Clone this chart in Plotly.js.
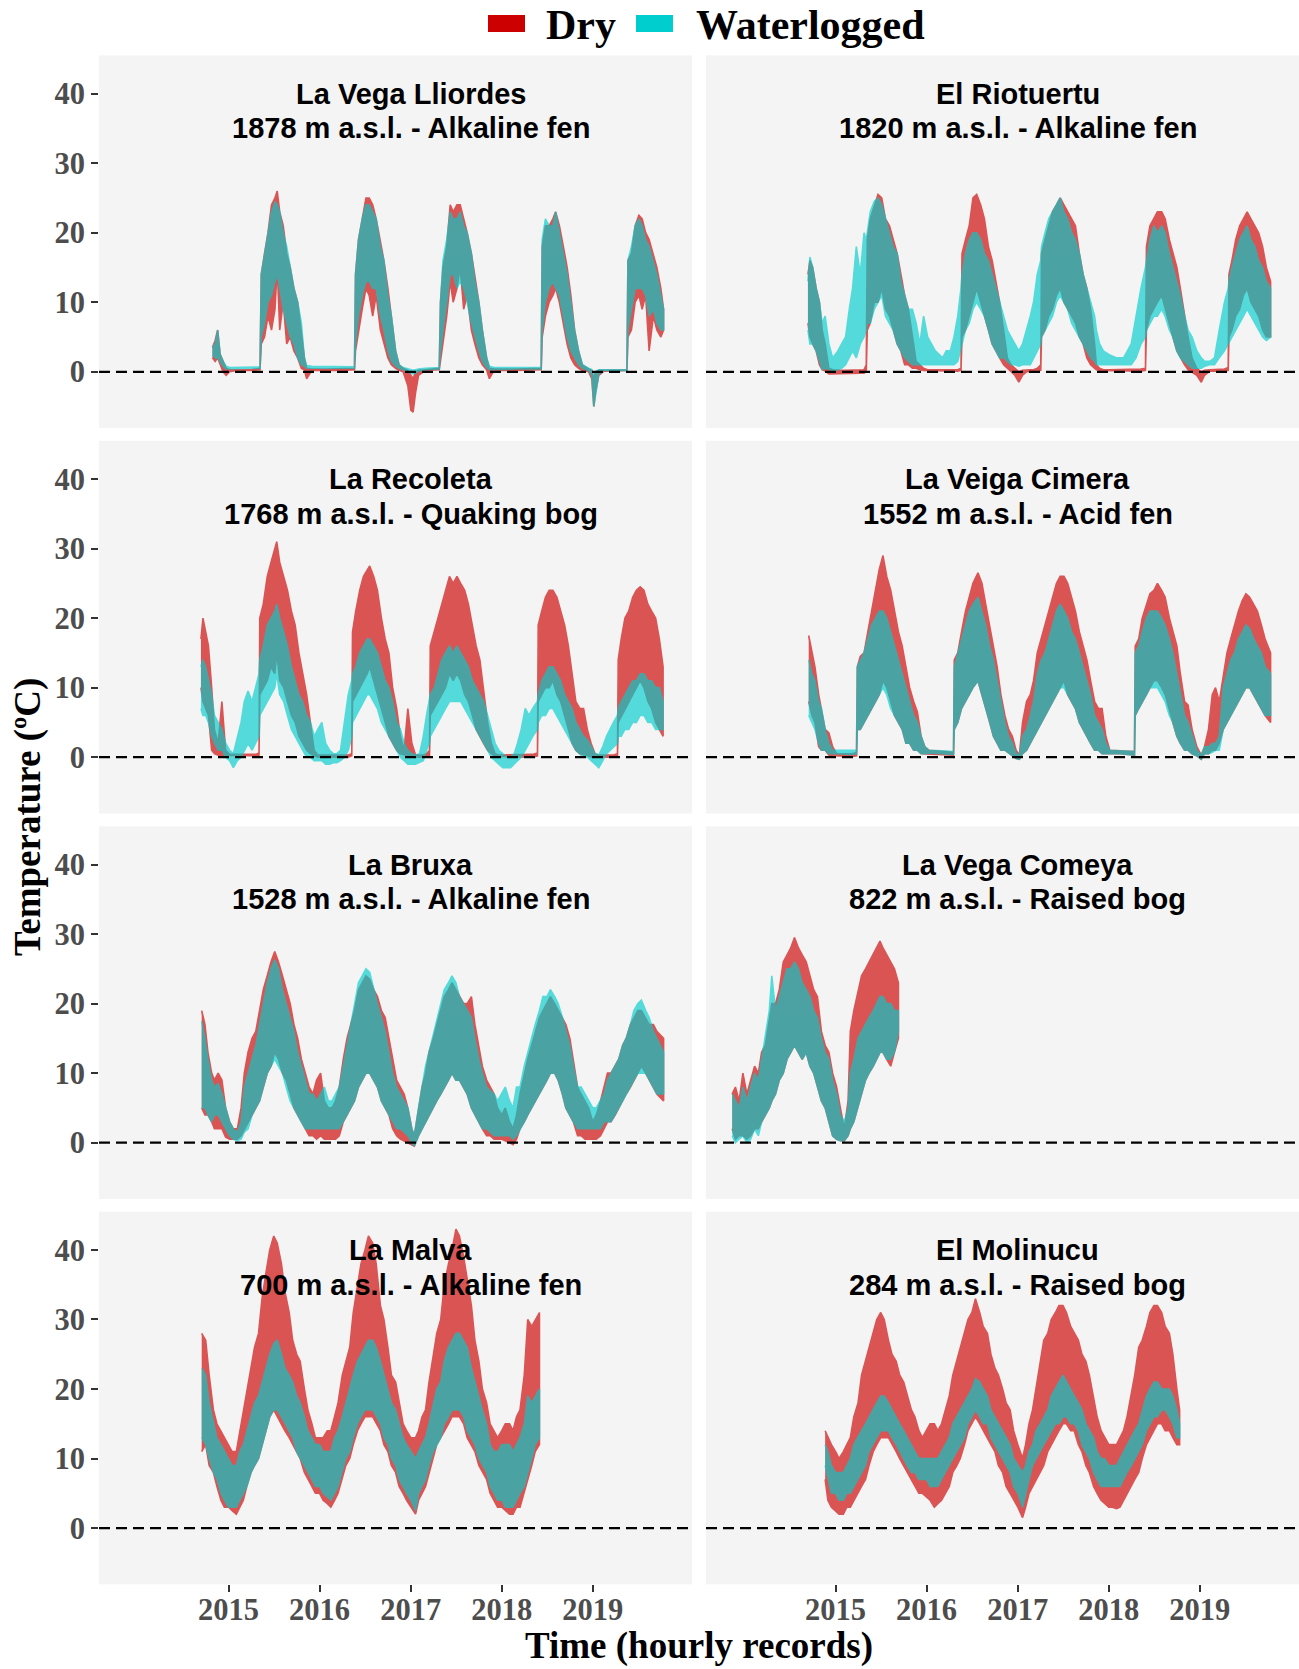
<!DOCTYPE html>
<html>
<head>
<meta charset="utf-8">
<script src="https://cdn.plot.ly/plotly-3.0.1.min.js"></script>
<style>html,body{margin:0;padding:0;background:#fff;}#chart{width:1299px;height:1669px;}</style>
</head>
<body>
<div id="chart"></div>
<script>
// ---------------- DATA (envelopes: low/high of the hourly traces) ----------------
const siteNames = ["La Vega Lliordes","El Riotuertu","La Recoleta","La Veiga Cimera","La Bruxa","La Vega Comeya","La Malva","El Molinucu"];
const siteLabels = ["1878 m a.s.l. - Alkaline fen","1820 m a.s.l. - Alkaline fen","1768 m a.s.l. - Quaking bog","1552 m a.s.l. - Acid fen","1528 m a.s.l. - Alkaline fen","822 m a.s.l. - Raised bog","700 m a.s.l. - Alkaline fen","284 m a.s.l. - Raised bog"];
const seriesNames = ["Dry","Waterlogged"];
const yearTicks = ["2015-01-01","2016-01-01","2017-01-01","2018-01-01","2019-01-01"];
const yearLabels = ["2015","2016","2017","2018","2019"];
const tempTicks = [0,10,20,30,40];

// La Vega Lliordes
const lliordesDates = ["2014-10-28","2014-11-08","2014-11-18","2014-11-28","2014-12-10","2014-12-22","2015-01-05","2015-02-01","2015-03-01","2015-04-01",
"2015-05-07","2015-05-12","2015-05-25","2015-06-08","2015-06-22","2015-07-06","2015-07-15","2015-07-25","2015-08-08","2015-08-22",
"2015-09-05","2015-09-20","2015-10-05","2015-10-20","2015-11-01","2015-11-10","2015-12-01","2016-02-01","2016-04-01","2016-05-20",
"2016-05-24","2016-06-05","2016-06-20","2016-07-05","2016-07-18","2016-08-01","2016-08-15","2016-09-01","2016-09-15","2016-10-01",
"2016-10-15","2016-11-01","2016-11-15","2016-12-01","2016-12-20","2017-01-01","2017-01-10","2017-01-20","2017-02-01","2017-03-01",
"2017-04-25","2017-04-30","2017-05-10","2017-05-25","2017-06-08","2017-06-20","2017-07-05","2017-07-18","2017-08-01","2017-08-15",
"2017-09-01","2017-09-15","2017-10-01","2017-10-15","2017-11-01","2017-11-12","2017-12-01","2018-03-01","2018-06-08","2018-06-12",
"2018-06-25","2018-07-10","2018-07-25","2018-08-05","2018-08-20","2018-09-05","2018-09-20","2018-10-05","2018-10-20","2018-11-05",
"2018-11-20","2018-12-15","2018-12-28","2019-01-05","2019-01-12","2019-01-25","2019-02-15","2019-05-18","2019-05-22","2019-06-05",
"2019-06-20","2019-07-05","2019-07-18","2019-08-01","2019-08-15","2019-09-01","2019-09-15","2019-10-01","2019-10-12"];
const lliordesDryLo = [2,1.5,2,1,0,-0.5,0,0.2,0.2,0.2,
0.3,4,5,8,6,9,15,6,10,4,
5,3,2,0.5,0.3,-1,0.2,0.2,0.2,0.3,
3,6,9,12,11,8,11,6,4,2,
1,0.5,0.2,0,-2,-5.5,-5.8,-3,-0.5,0.2,
0.3,2,4,8,13,10,12,15,9,11,
6,4,2,1,0.3,-1,0.2,0.2,0.3,5,
8,10,11,12,10,7,4,2,1,0.5,
0.2,0,-1,-5,-3,-0.5,0.1,0.2,5,6,
10,11,9,11,3,8,6,5,6];
const lliordesDryHi = [3.5,4.5,6,2.5,1.5,0.5,0.3,0.3,0.3,0.3,
0.5,14,17,20,24,25,26,23,21,17,
15,12,10,6,2,0.5,0.4,0.4,0.4,0.5,
14,19,22,25,25,24,22,19,16,12,
8,3,1,0.5,0.2,-0.5,-1,0,0.2,0.3,
0.5,10,15,18,24,23,24,24,22,20,
17,14,10,6,2,0.5,0.4,0.4,0.5,18,
21,21,22,23,21,18,15,11,6,3,
1,0.4,0.2,-1,0,0.2,0.2,0.3,16,17,
21,22.5,22,20,19,17,15,12,9];
const lliordesWetLo = [2.5,2,2,1.5,0.8,0.4,0.4,0.5,0.5,0.5,
0.5,5,7,10,11,13,14,12,9,7,
5,4,2,1,0.8,0.5,0.6,0.6,0.5,0.5,
4,8,11,13,13,12,12,8,6,3,
1.5,0.8,0.5,0.3,0,-0.2,-0.3,-0.2,0.1,0.3,
0.4,3,6,10,14,14,12,13,12,10,
7,5,3,1.5,0.6,0.3,0.4,0.4,0.4,6,
10,12,13,12,11,8,5,3,2,1,
0.5,0.2,-0.5,-5,-3,-0.3,0.2,0.2,6,9,
12,12,12,11,8,9,7,6,6];
const lliordesWetHi = [3.5,4,6,2.5,1.5,0.8,0.6,0.6,0.6,0.6,
0.7,14,17,20,23,24.5,24,23,20,18,
15,12,10,7,2,0.9,0.8,0.8,0.7,0.7,
14,19,22,24,24,23,22,18,16,11,
8,3,1,0.6,0.4,0.3,0.2,0.3,0.4,0.5,
0.6,10,16,19,23,22,22,23,21,20,
17,13,10,6,2,0.8,0.6,0.6,0.6,19,
22,21,21,23,20,17,14,10,6,3,
1,0.5,0.3,-1,0,0.3,0.3,0.3,16,18,
21,22,21,19,18,16,14,11,9];

// El Riotuertu
const riotuertuDates = ["2014-09-12","2014-09-20","2014-10-01","2014-10-15","2014-10-28","2014-11-08","2014-11-20","2014-12-05","2014-12-20","2015-01-10",
"2015-01-25","2015-02-10","2015-02-25","2015-03-10","2015-03-25","2015-04-10","2015-04-25","2015-05-04","2015-05-08","2015-05-20",
"2015-06-05","2015-06-20","2015-07-05","2015-07-20","2015-08-05","2015-08-20","2015-09-05","2015-09-20","2015-10-05","2015-10-20",
"2015-11-05","2015-11-20","2015-12-05","2015-12-20","2016-01-05","2016-01-20","2016-02-05","2016-02-20","2016-03-05","2016-03-20",
"2016-04-05","2016-04-20","2016-05-05","2016-05-18","2016-05-22","2016-06-05","2016-06-20","2016-07-05","2016-07-20","2016-08-05",
"2016-08-20","2016-09-05","2016-09-20","2016-10-05","2016-10-20","2016-11-05","2016-11-20","2016-12-05","2016-12-20","2017-01-05",
"2017-01-20","2017-02-05","2017-02-20","2017-03-05","2017-03-20","2017-04-03","2017-04-06","2017-04-20","2017-05-05","2017-05-20",
"2017-06-05","2017-06-20","2017-07-05","2017-07-20","2017-08-05","2017-08-20","2017-09-05","2017-09-20","2017-10-05","2017-10-20",
"2017-11-05","2017-11-12","2017-11-25","2017-12-10","2018-01-01","2018-02-01","2018-03-01","2018-04-01","2018-04-20","2018-05-10",
"2018-05-28","2018-06-01","2018-06-15","2018-07-01","2018-07-15","2018-08-01","2018-08-15","2018-09-01","2018-09-15","2018-10-01",
"2018-10-15","2018-11-01","2018-11-15","2018-12-01","2018-12-20","2019-01-07","2019-01-20","2019-02-10","2019-03-01","2019-03-20",
"2019-04-10","2019-04-25","2019-04-28","2019-05-10","2019-05-25","2019-06-10","2019-06-25","2019-07-10","2019-07-25","2019-08-10",
"2019-08-25","2019-09-10","2019-09-25","2019-10-12"];
const riotuertuDryLo = [7,5,4,3,1,0.3,0.1,-0.3,-0.3,-0.2,
-0.2,-0.2,-0.2,-0.2,-0.2,-0.2,-0.2,0,6,7,
10,10,12,9,8,6,4,3,1,1,
0.5,0.5,0.3,0.2,0.1,0.1,0.1,0.1,0.1,0.1,
0.1,0.1,0.1,0.2,5,6,8,10,12,10,
8,6,4,3,2,1,0.5,0,-0.5,-1.5,
-0.5,0,0,0,0.1,0.2,5,6,8,9,
11,12,10,9,8,7,5,4,2,1,
0.5,0.3,0.2,0.1,0.1,0.1,0.1,0.1,0.1,0.1,
0.2,6,8,9,10,11,9,7,5,3,
2,1,0.3,0,-0.5,-1.5,-0.5,0.1,0.1,0.1,
0.1,0.2,5,6,8,9,11,12,10,9,
8,6,5,5];
const riotuertuDryHi = [14,16,15,12,10,6,4,0.5,0.3,0.2,
0.2,0.2,0.2,0.2,0.2,0.2,0.3,1,19,22,
24,25.5,25,22,21,19,17,14,11,9,
5,1.5,1,0.5,0.3,0.3,0.3,0.3,0.3,0.3,
0.3,0.3,0.3,0.5,17,19,21,25,25.5,24,
22,18,16,13,10,6,2,1,0.5,0,
0.2,0.3,0.3,0.3,0.5,1,17,19,21,23,
24,25,24,23,22,21,17,14,12,9,
4,1,0.5,0.3,0.3,0.3,0.3,0.3,0.3,0.4,
0.5,18,21,22,23,23,22,19,17,15,
12,8,5,2,0.5,0,0.2,0.3,0.3,0.3,
0.4,0.6,14,16,19,21,22,23,22,21,
20,18,15,13];
const riotuertuWetLo = [6,4,4,3,1.5,0.3,0.5,0.3,0.2,0.3,
0.5,1,2,3,2,4,5,6,7,7,
9,10,11,8,7,6,4,3,2,1.5,
1,1,1,1,1,1,1,1,1,1,
1,1,1.5,3,4,6,7,9,10,9,
8,6,4,3,2,2,1.5,1,1,0.8,
1,1,1,2,3,4,5,6,7,8,
10,11,10,9,7,6,5,4,3,2,
1.5,1,1,1,1,1,1,1,2,4,
5,6,7,8,8,9,8,6,5,3,
2,1.5,1,0.5,0.5,0.5,0.8,1,1,2,
3,4,4,5,6,7,8,9,8,7,
6,5,4.5,5];
const riotuertuWetHi = [13,16.5,15,12,10,7,8,4,2,3,
4,5,9,12,18,14,20,19,20,23,
24.5,25,24,22,20,18,17,13,11,9,
9,7,4,8,5,4,3,2.5,2,3,
3,5,8,12,14,17,19,20,20,19,
17,16,14,12,10,8,6,5,4,3,
4,6,8,10,14,16,18,20,22,23,
24,25,23,22,20,19,17,14,12,10,
8,6,4,3,2.5,2,2,4,8,12,
15,16,19,21,20,21,20,17,15,13,
11,8,6,5,3,2,1.5,1.5,2,6,
10,12,13,15,17,19,20,21,19,18,
16,15,13,12];

// La Recoleta
const recoletaDates = ["2014-09-12","2014-09-20","2014-10-01","2014-10-12","2014-10-25","2014-11-05","2014-11-20","2014-12-05","2014-12-20","2015-01-05",
"2015-01-20","2015-02-05","2015-02-20","2015-03-05","2015-03-20","2015-04-05","2015-04-20","2015-05-03","2015-05-06","2015-05-20",
"2015-06-05","2015-06-20","2015-07-05","2015-07-13","2015-07-25","2015-08-10","2015-08-25","2015-09-10","2015-09-25","2015-10-10",
"2015-10-25","2015-11-10","2015-11-25","2015-12-10","2015-12-25","2016-01-10","2016-01-25","2016-02-10","2016-02-25","2016-03-10",
"2016-03-25","2016-04-10","2016-04-25","2016-05-09","2016-05-12","2016-05-25","2016-06-10","2016-06-25","2016-07-10","2016-07-20",
"2016-08-05","2016-08-20","2016-09-05","2016-09-20","2016-10-05","2016-10-20","2016-11-05","2016-11-20","2016-12-05","2016-12-20",
"2017-01-05","2017-01-20","2017-02-05","2017-02-20","2017-03-05","2017-03-17","2017-03-20","2017-04-05","2017-04-20","2017-05-05",
"2017-05-20","2017-06-05","2017-06-20","2017-07-05","2017-07-20","2017-08-05","2017-08-20","2017-09-05","2017-09-20","2017-10-05",
"2017-10-20","2017-11-05","2017-11-20","2017-12-05","2017-12-20","2018-01-05","2018-01-20","2018-02-05","2018-02-20","2018-03-05",
"2018-03-20","2018-04-05","2018-04-20","2018-05-05","2018-05-24","2018-05-27","2018-06-10","2018-06-25","2018-07-10","2018-07-25",
"2018-08-10","2018-08-25","2018-09-10","2018-09-25","2018-10-10","2018-10-25","2018-11-10","2018-11-25","2018-12-10","2018-12-25",
"2019-01-10","2019-01-25","2019-02-10","2019-02-25","2019-03-10","2019-03-25","2019-04-10","2019-04-13","2019-04-25","2019-05-10",
"2019-05-25","2019-06-10","2019-06-25","2019-07-10","2019-07-25","2019-08-10","2019-08-25","2019-09-10","2019-09-25","2019-10-10"];
const recoletaDryLo = [10,8,7,6,1,0.5,0.3,0.3,0.2,0.2,
0.2,0.2,0.2,0.2,0.2,0.2,0.2,0.3,9,10,
11,13,12,15,11,10,8,6,5,3,
2,1,0.5,0.2,0,0,0,0,0,0,
0,0,0,0.2,8,9,10,11,12,13,
11,9,7,5,3,2,1,0.5,0.3,0.2,
0,0,0,0,0,0.2,6,7,8,9,
10,12,11,12,11,9,8,6,4,3,
2,1,0.5,0.1,0,0,0,0,0,0,
0,0,0,0,0.2,8,9,10,10,11,
9,8,6,4,2,1,0.5,0.3,0.2,0,
0,0,0,0,0,0,0.2,5,6,7,
8,9,10,11,10,8,7,5,4,3];
const recoletaDryHi = [17,20,18,16,10,4,2,8,1,0.4,
0.4,0.4,0.4,0.4,0.4,0.4,0.4,0.6,20,22,
26,28,30,31,28,26,24,21,19,15,
12,9,5,1,0.3,0.3,0.3,0.3,0.3,0.3,
0.3,0.3,0.3,0.5,18,21,24,26,27,27.5,
26,24,20,17,15,10,7,3,1,7,
2,0.3,0.3,0.3,0.5,1,16,18,20,22,
24,26,25,26,25,24,22,19,16,14,
10,5,2,0.5,0.3,0.3,0.3,0.3,0.3,0.3,
0.3,0.3,0.3,0.4,0.6,19,21,23,24,24,
23,21,19,16,12,8,7,7,4,2,
0.5,0.3,0.3,0.3,0.3,0.3,0.5,14,17,20,
21,23,24,24.5,24,22,21,20,17,13];
const recoletaWetLo = [7,6,6,5,3,2,1,1,0,-0.5,
-1.5,-0.5,0,1,2,1,2,3,6,7,
8,9,10,12,9,8,6,4,3,2,
1,0,0,-0.5,-0.5,-0.5,-1,-1,-0.8,-0.8,
-0.5,0,1,3,5,6,7,8,9,9,
8,7,5,4,3,2,1,0,-0.5,-1,
-1,-1,-0.8,-0.5,1,2,3,4,5,6,
7,8,8,8,8,7,6,5,4,3,
2,1,0,-0.5,-1,-1.5,-1.5,-1.5,-1,-0.5,
0,1,2,3,4,5,6,6,7,7,
6,5,4,3,2,1,0.5,0,0,-0.5,
-1,-1.5,-0.5,0.5,1,1.5,2,3,3,4,
4,5,5,6,6,5,5,4,4,4];
const recoletaWetHi = [13,14,13,11,9,6,5,4,2,1,
0.5,3,5,8,9.5,8,10,12,14,16,
19,20,21,22,20,18,16,13,11,9,
8,6,5,3,4,5,2,1,0.5,0.5,
1,5,9,11,12,13,15,16,17,17,
16,15,13,11,10,8,5,4,2,1,
0.5,0.3,0.5,3,6,8,9,10,12,14,
15,16,15,16,15,14,13,11,10,9,
8,6,4,2,1,0.5,0,0,0.5,2,
4,7,6,7,8,9,11,12,13,13,
12,11,9,8,7,5,4,3,2.5,1.5,
0.5,0.3,1.5,3,4,5,6,7,8,9,
10,11,11,12,12,11,11,10,10,8];

// La Veiga Cimera
const cimeraDates = ["2014-09-15","2014-09-28","2014-10-10","2014-10-25","2014-11-05","2014-11-20","2014-12-05","2014-12-20","2015-01-05","2015-02-05",
"2015-03-10","2015-03-26","2015-03-29","2015-04-10","2015-04-25","2015-05-10","2015-05-25","2015-06-10","2015-06-25","2015-07-10",
"2015-07-25","2015-08-10","2015-08-25","2015-09-10","2015-09-25","2015-10-10","2015-10-25","2015-11-10","2015-11-25","2015-12-10",
"2015-12-25","2016-01-10","2016-03-01","2016-04-18","2016-04-21","2016-05-05","2016-05-20","2016-06-05","2016-06-20","2016-07-05",
"2016-07-25","2016-08-10","2016-08-25","2016-09-10","2016-09-25","2016-10-10","2016-10-25","2016-11-10","2016-11-25","2016-12-10",
"2016-12-25","2017-01-07","2017-01-20","2017-02-05","2017-02-20","2017-03-05","2017-03-20","2017-04-05","2017-04-20","2017-05-05",
"2017-05-20","2017-06-05","2017-06-20","2017-07-05","2017-07-20","2017-08-05","2017-08-20","2017-09-05","2017-09-20","2017-10-05",
"2017-10-20","2017-11-05","2017-11-20","2017-12-05","2017-12-20","2018-01-05","2018-02-15","2018-04-14","2018-04-17","2018-05-01",
"2018-05-15","2018-06-01","2018-06-15","2018-07-01","2018-07-15","2018-08-01","2018-08-15","2018-09-01","2018-09-15","2018-10-01",
"2018-10-15","2018-11-01","2018-11-15","2018-12-01","2018-12-20","2019-01-07","2019-01-20","2019-02-05","2019-02-20","2019-03-05",
"2019-03-20","2019-04-05","2019-04-20","2019-05-05","2019-05-20","2019-06-05","2019-06-20","2019-07-05","2019-07-20","2019-08-05",
"2019-08-20","2019-09-05","2019-09-20","2019-10-12"];
const cimeraDryLo = [8,6,5,1.5,1,1,0.3,0.2,0.1,0.1,
0.1,0.2,4,4,5,6,7,8,9,11,
10,8,6,5,4,2,2,1,1,0.5,
0.5,0.5,0.4,0.3,4,5,7,8,9,10,
11,9,7,5,3,2,1,1,0.5,0.2,
-0.2,-0.3,0.5,1,2,3,4,5,6,7,
8,9,10,11,9,8,7,5,4,3,
2,1,1,0.5,0.5,0.5,0.5,0.3,6,7,
8,9,10,11,11,10,9,7,5,3,
2,1,1,0.5,0.2,-0.3,0.5,0.5,1,1,
2,4,5,6,7,8,9,10,10,9,
8,7,6,5];
const cimeraDryHi = [17.5,15,13,9,7,4,3.5,1.5,0.5,0.5,
0.5,0.7,13,14.5,15,18,21,24,27,29,
26,24,21,18,16,13,10,8,6.5,3,
1.5,1,0.8,0.7,14,15,18,21,23,25,
26.5,25,22,19,16,13,9,6,4,3,
1,0.3,5,8,9,11,15,17,19,21,
23,25,26,26,25,23,21,18,16,14,
11,8,7,7,3,1,0.9,0.8,16,17,
20,22,23.5,24,25,24,23,20,18,16,
12,8,7.5,4,1.5,0.3,1.5,4,9,10,
8,12,15,17,19,21,22.5,23.5,23,22,
21,19,17,15];
const cimeraWetLo = [6,5,4,2,1,1,0.5,0.5,0.5,0.5,
0.4,0.5,4,4,5,6,7,8,9,10,
9,7,6,5,4,2,2,1,1,0.5,
0.5,0.6,0.5,0.4,4,5,7,8,9,10,
11,9,7,5,3,2,1,1,0.5,0.2,
-0.2,-0.3,0.5,1,2,3,4,5,6,7,
8,9,10,10,9,8,7,5,4,3,
2,1,1,0.5,0.5,0.5,0.5,0.3,6,7,
8,9,10,10,10,9,8,6,5,3,
2,1,1,0.5,0.2,-0.3,0.5,0.5,0.7,1,
1,4,5,6,7,8,9,10,10,9,
8,7,6,6];
const cimeraWetHi = [14,12,11,8,7,4,2,1,1,1,
0.9,1,13,14,15,17,19,20,21,21,
20,18,16,14,12,10,8,6,5,3,
1.5,1,0.9,0.8,13,15,17,19,21,22,
23,21,19,16,14,11,8,5,3,2,
0.5,0.3,3,4,6,8,12,14,15,17,
19,21,22,21,20,18,17,15,13,11,
9,6,5,4,2,1,0.9,0.8,15,16,
18,20,21,21,21,20,19,17,15,12,
9,6,5,3,1,0.3,1.5,1.5,2,2,
3,10,12,14,15,17,18,19,18.5,17,
16,15,13,12];

// La Bruxa
const bruxaDates = ["2014-09-15","2014-09-28","2014-10-10","2014-10-25","2014-11-05","2014-11-20","2014-12-05","2014-12-20","2015-01-05","2015-01-20",
"2015-02-05","2015-02-20","2015-03-05","2015-03-20","2015-04-05","2015-04-20","2015-05-05","2015-05-20","2015-06-05","2015-06-20",
"2015-07-05","2015-07-20","2015-08-05","2015-08-20","2015-09-05","2015-09-20","2015-10-05","2015-10-20","2015-11-05","2015-11-20",
"2015-12-05","2015-12-20","2016-01-05","2016-01-20","2016-02-05","2016-02-20","2016-03-05","2016-03-20","2016-04-05","2016-04-20",
"2016-05-05","2016-05-20","2016-06-05","2016-06-20","2016-07-05","2016-07-20","2016-08-05","2016-08-20","2016-09-05","2016-09-20",
"2016-10-05","2016-10-20","2016-11-05","2016-11-20","2016-12-05","2016-12-20","2017-01-05","2017-01-15","2017-02-01","2017-02-15",
"2017-03-01","2017-03-15","2017-04-01","2017-04-15","2017-05-01","2017-05-15","2017-06-01","2017-06-15","2017-07-01","2017-07-15",
"2017-08-01","2017-08-15","2017-09-01","2017-09-15","2017-10-01","2017-10-15","2017-11-01","2017-11-15","2017-12-01","2017-12-15",
"2018-01-01","2018-01-15","2018-02-01","2018-02-15","2018-03-01","2018-03-15","2018-04-01","2018-04-15","2018-05-01","2018-05-15",
"2018-06-01","2018-06-15","2018-07-01","2018-07-15","2018-08-01","2018-08-15","2018-09-01","2018-09-15","2018-10-01","2018-10-15",
"2018-11-01","2018-11-15","2018-12-01","2018-12-15","2019-01-01","2019-01-15","2019-02-01","2019-02-15","2019-03-01","2019-03-15",
"2019-04-01","2019-04-15","2019-05-01","2019-05-15","2019-06-01","2019-06-15","2019-07-01","2019-07-15","2019-08-01","2019-08-15",
"2019-09-01","2019-09-15","2019-10-12"];
const bruxaDryLo = [5,4,4,3,2,2,2,0.8,0.5,0.5,
0.5,1,2,3,4,5,6,8,10,11,
13,12,10,9,7,5,4,3,2,1,
1,0.5,1,0.5,0.5,0.5,0.5,1,3,4,
5,6,8,9,10,10,9,8,6,5,
4,2,1,0.5,0.3,0,-0.3,-0.5,1,2,
3,4,5,6,7,8,9,10,9,9,
8,7,5,4,3,2,1,1,0.5,0.5,
0.5,0.3,0,-0.3,0.5,2,3,4,5,6,
7,8,9,10,10,9,7,5,4,3,
1,1,0.5,0.5,0.5,0.5,1,2,3,3,
4,5,6,7,8,9,10,11,10,9,
8,7,6];
const bruxaDryHi = [19,17,13,10,9,10,9,5,3,2,
2,5,10,13,15,16,19,22,24,26,
27.5,26,24,22,20,17,15,12,10,8,
7,9,10,6,5,5,6,8,12,15,
17,19,22,23,24,23.5,22,21,19,18,
15,12,9,8,7,5,2,1,5,8,
10,13,15,17,19,21,22,23,22,21,
20,20,21,17,14,11,9,8,7,5,
4,5,3,2,4,7,10,12,14,16,
18,19,20,21,20,19,18,17,15,12,
8,7,6,5,3,4,6,8,10,10,
11,12,14,15,17,18,19,19,18,17,
17,16,15];
const bruxaWetLo = [5,5,4,3,4,4,3,2,1,0.5,
0.3,0.5,1.5,2,4,5,6,8,10,11,
12,11,10,8,6,5,4,3,2,2,
2,2,2,2,2,2,2,2,3,4,
5,6,8,9,10,10,9,8,6,5,
4,3,2,2,1.5,1,0,-0.5,1,2,
3,4,5,6,7,8,9,10,9,9,
8,7,5,4,3,2,2,1.5,1,1,
1,1,1,0.5,1,2,3,4,5,6,
7,8,9,10,10,9,7,5,4,3,
2,2,2,2,2,2,2,3,3,3,
4,5,6,7,8,9,10,10,10,9,
8,7,7];
const bruxaWetHi = [17.5,15,12,9,8,8.5,7,5,3,2,
1.5,3,8,10,12,14,17,20,23,25,
26.3,25,22,20,18,16,13,11,9,7,
7,6,7,8,6,6,7,8,11,14,
17,20,23,24,25,24.5,22,20,18,16,
13,10,8,7,6,5,2,1,5,8,
11,13,15.5,18,20,22,23,24,23,21,
20,19,18,15,12,10,8,7.5,7,6,
7,8,6,5,8,8,11,13,15,17,
19,21,21,22,21,20,18,16,14,11,
8,8,7,6,5,5,6,7,9,10,
11,12,14,15,17,19,20,20.5,19,18,
16,15,13];

// La Vega Comeya
const comeyaDates = ["2013-11-12","2013-11-25","2013-12-10","2013-12-25","2014-01-10","2014-01-25","2014-02-10","2014-02-25","2014-03-10","2014-03-25",
"2014-04-10","2014-04-20","2014-05-05","2014-05-20","2014-06-05","2014-06-20","2014-07-05","2014-07-20","2014-08-05","2014-08-20",
"2014-09-05","2014-09-20","2014-10-05","2014-10-20","2014-11-05","2014-11-20","2014-12-05","2014-12-20","2015-01-05","2015-01-20",
"2015-02-05","2015-02-20","2015-03-01","2015-03-15","2015-04-01","2015-04-15","2015-05-01","2015-05-15","2015-06-01","2015-06-15",
"2015-06-28","2015-07-10","2015-07-25","2015-08-10","2015-08-25","2015-09-10"];
const comeyaDryLo = [2,0.5,1,1,0.5,1,2,2,3,4,
5,6,7,9,10,12,13,14,13,12,
13,11,10,8,6,5,3,1,0.5,0.3,
0.3,1,2,3,5,7,9,10,11,12,
13,13,12,11,13,15];
const comeyaDryHi = [7,8,6,10,7,9,11,10,13,14,
18,20,20,22,26,27,28,29.5,28,27,
26,24,22,21,16,14,13,10,8,5,
2,6,16,19,22,24,25,26,27,28,
29,28,27,26,25,23];
const comeyaWetLo = [1,0,0.5,1,0,0.5,2,1,3,4,
5,6,7,9,10,12,13,14,13,12,
13,11,10,8,6,5,3,1,0.5,0.3,
0.3,1,2,3,5,7,9,10,11,12,
13,13,12,12,13,16];
const comeyaWetHi = [7,6,5,8,6,8,10,9,12,15,
19,24,19,21,23,25,25,26,25,23,
22,21,19,18,15,13,12,9,7,4,
3,5,10,12,15,16,17,18,19,20,
21,21,20,20,19,19];

// La Malva
const malvaDates = ["2014-09-15","2014-10-01","2014-10-15","2014-11-01","2014-11-15","2014-12-01","2014-12-15","2015-01-01","2015-01-15","2015-02-01",
"2015-02-15","2015-03-01","2015-03-15","2015-04-01","2015-04-15","2015-05-01","2015-05-15","2015-06-01","2015-06-15","2015-07-01",
"2015-07-15","2015-08-01","2015-08-15","2015-09-01","2015-09-15","2015-10-01","2015-10-15","2015-11-01","2015-11-15","2015-12-01",
"2015-12-15","2016-01-01","2016-01-15","2016-02-01","2016-02-15","2016-03-01","2016-03-15","2016-04-01","2016-04-15","2016-05-01",
"2016-05-15","2016-06-01","2016-06-15","2016-07-01","2016-07-15","2016-08-01","2016-08-15","2016-09-01","2016-09-15","2016-10-01",
"2016-10-15","2016-11-01","2016-11-15","2016-12-01","2016-12-15","2017-01-01","2017-01-20","2017-02-01","2017-02-15","2017-03-01",
"2017-03-15","2017-04-01","2017-04-15","2017-05-01","2017-05-15","2017-06-01","2017-06-15","2017-07-01","2017-07-15","2017-08-01",
"2017-08-15","2017-09-01","2017-09-15","2017-10-01","2017-10-15","2017-11-01","2017-11-15","2017-12-01","2017-12-15","2018-01-01",
"2018-01-15","2018-02-01","2018-02-15","2018-03-01","2018-03-15","2018-04-01","2018-04-15","2018-05-01","2018-05-15","2018-06-01"];
const malvaDryLo = [11,12,9,8,6,4,3,3,2.5,2,
3,4,6,8,9,10,12,14,16,17,
16,15,14,13,12,11,10,8,7,6,
5,5,4,3.5,3,4,5,7,9,10,
12,14,15,16,16,16,15,14,12,11,
9,8,6,5,4,3,2,4,5,6,
8,10,12,13,14,15,16,16,16,15,
13,12,11,9,8,7,5,4,3,3,
2.5,2,2,3,3,5,7,9,11,12];
const malvaDryHi = [28,27,22,17,15,14,13,12,11,11,
14,17,20,23,26,28,33,37,40,42,
41,38,34,31,27,25,24,20,17,15,
13,13,13,14,14,16,18,22,24,26,
31,35,38,40,42,41,38,32,30,26,
22,21,18,15,14,13,13,14,16,17,
21,25,28,30,35,38,40,43,42,39,
36,32,27,24,20,18,15,14,13,14,
15,15,14,16,17,22,30,29,30,31];
const malvaWetLo = [13,12,10,8,7,5,4,3,3,3,
4,5,6,8,9,10,12,14,16,17,
17,16,15,14,13,11,10,9,8,7,
6,6,5,4.5,4,5,6,8,10,11,
13,15,16,17,17,17,16,15,13,12,
10,9,7,6,5,4,2.5,5,6,7,
9,11,12,13,15,16,17,17,17,16,
14,13,12,10,9,8,6,5,4,4,
3,3,3,4,5,6,8,10,12,13];
const malvaWetHi = [23,22,18,15,13,12,11,10,9,9,
11,12,14,16,18,19,21,23,25,26.5,
27,25,23,22,21,19,18,16,14,13,
12,12,11,11,11,13,14,16,18,20,
22,24,25,26,27,27,26,24,22,20,
18,17,15,13,12,11,10,11,12,13,
15,18,20,21,24,26,27,28,28,27,
26,23,21,19,17,15,12,11,11,12,
12,12,11,12,13,15,19,18,19,20];

// El Molinucu
const molinucuDates = ["2014-11-20","2014-12-01","2014-12-15","2015-01-01","2015-01-15","2015-02-01","2015-02-15","2015-03-01","2015-03-15","2015-04-01",
"2015-04-15","2015-05-01","2015-05-15","2015-06-01","2015-06-15","2015-07-01","2015-07-15","2015-08-01","2015-08-15","2015-09-01",
"2015-09-15","2015-10-01","2015-10-15","2015-11-01","2015-11-15","2015-12-01","2015-12-15","2016-01-01","2016-01-15","2016-02-01",
"2016-02-15","2016-03-01","2016-03-15","2016-04-01","2016-04-15","2016-05-01","2016-05-15","2016-06-01","2016-06-15","2016-07-01",
"2016-07-15","2016-08-01","2016-08-15","2016-09-01","2016-09-15","2016-10-01","2016-10-15","2016-11-01","2016-11-15","2016-12-01",
"2016-12-15","2017-01-01","2017-01-20","2017-02-01","2017-02-15","2017-03-01","2017-03-15","2017-04-01","2017-04-15","2017-05-01",
"2017-05-15","2017-06-01","2017-06-15","2017-07-01","2017-07-15","2017-08-01","2017-08-15","2017-09-01","2017-09-15","2017-10-01",
"2017-10-15","2017-11-01","2017-11-15","2017-12-01","2017-12-15","2018-01-01","2018-01-15","2018-02-01","2018-02-15","2018-03-01",
"2018-03-15","2018-04-01","2018-04-15","2018-05-01","2018-05-15","2018-06-01","2018-06-15","2018-07-01","2018-07-15","2018-08-01",
"2018-08-15","2018-09-01","2018-09-15","2018-10-01","2018-10-12"];
const molinucuDryLo = [7,4,3,2.5,2,2,3,3,4,5,
6,7,9,11,12,13,13,13,12,11,
10,9,8,7,6,5,5,4.5,4,3,
3.5,4,5,6,8,9,10,12,14,15,
16,15,14,13,12,11,9,8,6,5,
4,3,1.5,3,5,6,7,8,9,11,
12,13,14,15,15,14,14,12,11,9,
8,6,5,4,3.5,3,3,2.8,3,4,
5,6,7,8,10,12,13,14,15,15,
14,14,13,12,12];
const molinucuDryHi = [14,13,12,11,10,11,12,13,16,18,
22,24,26,28,30,31,30,27,25,24,
22,21,19,17,16,14,13,14,15,15,
14,15,17,19,22,24,26,28,30,31,
33,31,29,28,25,23,22,20,18,17,
14,12,10,12,15,17,20,24,27,28,
30,31,32,32,31,29,28,27,25,24,
22,19,16,14,13,12,12,12,13,14,
16,19,22,26,27,29,31,32,32,31,
29,28,25,20,17];
const molinucuWetLo = [9,7,5,5,4,4,5,5,6,7,
8,9,11,12,13,14,14,14,13,12,
11,10,9,8,8,7,7,7,6,6,
6,7,8,9,10,11,12,13,15,16,
17,16,15,15,13,12,11,10,9,8,
6,5,3,5,7,9,10,11,12,13,
14,15,15,16,16,15,15,14,12,11,
10,8,7,6,6,6,6,6,6,7,
8,9,10,11,12,14,15,16,16,17,
17,16,15,13,13];
const molinucuWetHi = [12,11,9,8,8,8,9,10,12,13,
14,15,16,17,18,19,19,18,17,16,
15,14,13,12,11,10,10,10,10,10,
10,11,12,13,15,16,17,18,19,20,
21.5,21,20,19,17,16,15,14,13,12,
10,9,8,9,11,12,14,15,16,17,
19,20,21,22,21,20,19,18,17,15,
14,13,11,10,10,9,9,9,10,11,
12,13,14,15,17,19,20,21,21,20,
20,20,19,17,15];

// ---------------- BUILD ----------------
const siteData = [
  [lliordesDates, lliordesDryLo, lliordesDryHi, lliordesWetLo, lliordesWetHi],
  [riotuertuDates, riotuertuDryLo, riotuertuDryHi, riotuertuWetLo, riotuertuWetHi],
  [recoletaDates, recoletaDryLo, recoletaDryHi, recoletaWetLo, recoletaWetHi],
  [cimeraDates, cimeraDryLo, cimeraDryHi, cimeraWetLo, cimeraWetHi],
  [bruxaDates, bruxaDryLo, bruxaDryHi, bruxaWetLo, bruxaWetHi],
  [comeyaDates, comeyaDryLo, comeyaDryHi, comeyaWetLo, comeyaWetHi],
  [malvaDates, malvaDryLo, malvaDryHi, malvaWetLo, malvaWetHi],
  [molinucuDates, molinucuDryLo, molinucuDryHi, molinucuWetLo, molinucuWetHi]
];

const W = 1299, H = 1669;
const DRY = '#CD0000', WET = '#00CDCD';
const colX = [[99, 692], [706, 1299]];
const rowY = [[55.4, 428.1], [440.8, 813.5], [826.3, 1199], [1211.7, 1584.4]];
const xRange = ['2013-07-30', '2020-02-03'];
const yRange = [-8.1, 45.5];

function band(d, lo, hi) {
  if (d.length !== lo.length || d.length !== hi.length) throw new Error('length mismatch ' + d.length + ' ' + lo.length + ' ' + hi.length);
  return { x: d.concat(d.slice().reverse()), y: hi.concat(lo.slice().reverse()) };
}

const traces = [];
const layout = {
  width: W, height: H,
  margin: { l: 0, r: 0, t: 0, b: 0, pad: 0 },
  paper_bgcolor: '#FFFFFF', plot_bgcolor: '#F4F4F4',
  showlegend: false,
  annotations: [], shapes: []
};
const tickFont = { family: 'Liberation Serif, Times New Roman, serif', size: 30.5, color: '#4D4D4D', weight: 'bold' };

for (let i = 0; i < 8; i++) {
  const col = i % 2, row = Math.floor(i / 2);
  const k = i + 1;
  const xa = 'x' + k, ya = 'y' + k;
  const [d, dLo, dHi, wLo, wHi] = siteData[i];
  const bd = band(d, dLo, dHi), bw = band(d, wLo, wHi);
  [[bd, DRY, seriesNames[0]], [bw, WET, seriesNames[1]]].forEach(([b, c, nm]) => {
    traces.push({
      type: 'scatter', mode: 'lines', name: nm, x: b.x, y: b.y,
      fill: 'toself', fillcolor: c, line: { color: c, width: 1.6 },
      opacity: 0.65, xaxis: xa, yaxis: ya, hoverinfo: 'skip', showlegend: false
    });
  });
  const xs = (k === 1 ? '' : k);
  layout['xaxis' + xs] = {
    domain: [colX[col][0] / W, colX[col][1] / W], anchor: ya, type: 'date', range: xRange,
    showgrid: false, zeroline: false, showline: false,
    tickmode: 'array', tickvals: yearTicks, ticktext: yearLabels,
    showticklabels: row === 3, ticks: row === 3 ? 'outside' : '',
    ticklen: 7, tickwidth: 2, tickcolor: '#333333', tickfont: tickFont,
    ticklabelstandoff: -9
  };
  layout['yaxis' + xs] = {
    domain: [1 - rowY[row][1] / H, 1 - rowY[row][0] / H], anchor: xa, range: yRange,
    showgrid: false, zeroline: false, showline: false,
    tickmode: 'array', tickvals: tempTicks, ticktext: tempTicks.map(String),
    showticklabels: col === 0, ticks: col === 0 ? 'outside' : '',
    ticklen: 7, tickwidth: 2, tickcolor: '#333333', tickfont: tickFont
  };
  layout.shapes.push({
    type: 'line', xref: xa + ' domain', yref: ya, x0: 0, x1: 1, y0: 0, y1: 0,
    line: { color: '#000000', width: 2.3, dash: '11px,6px' }, layer: 'above'
  });
  [[siteNames[i], 40], [siteLabels[i], 35]].forEach(([t, yv]) => {
    layout.annotations.push({
      text: t, xref: xa, yref: ya, x: '2017-01-01', y: yv, showarrow: false,
      xanchor: 'center', yanchor: 'middle',
      font: { family: 'Liberation Sans, Arial, sans-serif', size: 29, color: '#000000', weight: 'bold' }
    });
  });
}

// Axis titles
const titleFont = { family: 'Liberation Serif, Times New Roman, serif', size: 37, color: '#000000', weight: 'bold' };
layout.annotations.push({ text: 'Time (hourly records)', xref: 'paper', yref: 'paper', x: 699 / W, y: 1 - 1646 / H,
  showarrow: false, xanchor: 'center', yanchor: 'middle', font: titleFont });
layout.annotations.push({ text: 'Temperature (ºC)', xref: 'paper', yref: 'paper', x: 28 / W, y: 1 - 817 / H,
  showarrow: false, xanchor: 'center', yanchor: 'middle', textangle: -90, font: titleFont });

// Legend (drawn manually)
const legFont = { family: 'Liberation Serif, Times New Roman, serif', size: 42, color: '#000000', weight: 'bold' };
layout.shapes.push({ type: 'rect', xref: 'paper', yref: 'paper', x0: 488 / W, x1: 525 / W, y0: 1 - 32 / H, y1: 1 - 15 / H,
  fillcolor: DRY, line: { width: 0 } });
layout.shapes.push({ type: 'rect', xref: 'paper', yref: 'paper', x0: 636 / W, x1: 673 / W, y0: 1 - 32 / H, y1: 1 - 15 / H,
  fillcolor: WET, line: { width: 0 } });
layout.annotations.push({ text: seriesNames[0], xref: 'paper', yref: 'paper', x: 544 / W, y: 1 - 25 / H,
  showarrow: false, xanchor: 'left', yanchor: 'middle', font: legFont });
layout.annotations.push({ text: seriesNames[1], xref: 'paper', yref: 'paper', x: 694 / W, y: 1 - 25 / H,
  showarrow: false, xanchor: 'left', yanchor: 'middle', font: legFont });

Plotly.newPlot('chart', traces, layout, { displayModeBar: false, staticPlot: true });
</script>
</body>
</html>
